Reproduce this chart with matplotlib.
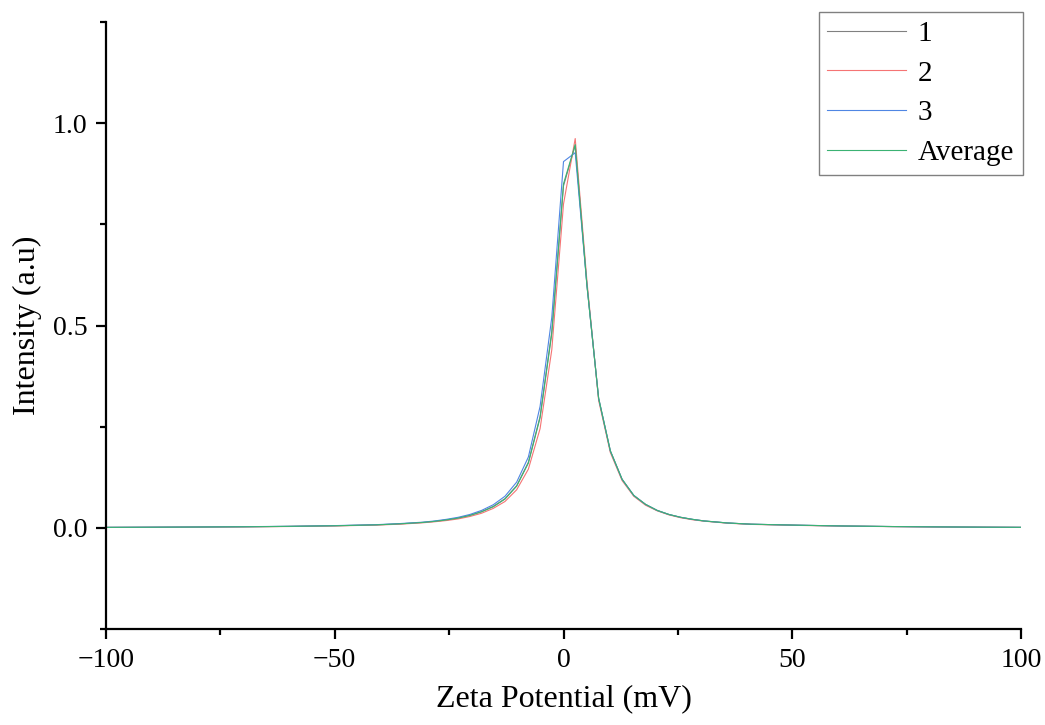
import matplotlib
matplotlib.use("Agg")
import matplotlib.pyplot as plt
from matplotlib.ticker import MultipleLocator

plt.rcParams["font.family"] = ["Liberation Serif", "DejaVu Serif"]

# zeta potential bins (mV)
zeta = [-100, -90, -80, -70, -60, -50, -40.96, -35.84, -30.72, -28.16, -25.6,
        -23.04, -20.48, -17.92, -15.36, -12.8, -10.24, -7.68, -5.12, -2.56, 0,
        2.56, 5.12, 7.68, 10.24, 12.8, 15.36, 17.92, 20.48, 23.04, 25.6, 28.16,
        30.72, 35.84, 40.96, 51.2, 61.44, 71.68, 81.92, 92.16, 100]

run1 = [0.0011, 0.0015, 0.002, 0.0026, 0.0036, 0.0051, 0.0073, 0.0098, 0.0134,
        0.016, 0.0196, 0.0242, 0.031, 0.04, 0.053, 0.072, 0.104, 0.162, 0.275,
        0.485, 0.845, 0.945, 0.60, 0.32, 0.19, 0.12, 0.08, 0.058, 0.043, 0.033,
        0.026, 0.021, 0.017, 0.012, 0.009, 0.0065, 0.0045, 0.0032, 0.0023,
        0.0016, 0.0012]
run2 = [0.001, 0.0013, 0.0018, 0.0024, 0.0033, 0.0047, 0.0068, 0.009, 0.0125,
        0.015, 0.018, 0.022, 0.028, 0.036, 0.048, 0.065, 0.094, 0.145, 0.245,
        0.44, 0.80, 0.962, 0.61, 0.315, 0.186, 0.117, 0.078, 0.056, 0.042,
        0.032, 0.025, 0.020, 0.0165, 0.0115, 0.0085, 0.006, 0.0042, 0.003,
        0.0021, 0.0015, 0.0011]
run3 = [0.0012, 0.0016, 0.0021, 0.0028, 0.0038, 0.0055, 0.0078, 0.0105, 0.014,
        0.017, 0.021, 0.026, 0.033, 0.043, 0.057, 0.078, 0.113, 0.175, 0.30,
        0.52, 0.905, 0.927, 0.60, 0.32, 0.19, 0.12, 0.08, 0.058, 0.043, 0.033,
        0.026, 0.021, 0.017, 0.012, 0.009, 0.0065, 0.0045, 0.0032, 0.0023,
        0.0016, 0.0012]
average = [0.0011, 0.0015, 0.002, 0.0026, 0.0036, 0.0051, 0.0073, 0.0098,
           0.0133, 0.016, 0.0195, 0.024, 0.0305, 0.0395, 0.052, 0.071, 0.103,
           0.16, 0.272, 0.48, 0.85, 0.947, 0.60, 0.32, 0.19, 0.12, 0.08, 0.058,
           0.043, 0.033, 0.026, 0.021, 0.017, 0.012, 0.009, 0.0065, 0.0045,
           0.0032, 0.0023, 0.0016, 0.0012]

labels = ["1", "2", "3", "Average"]
colors = ["#808080", "#F57474", "#4F86E3", "#3BB273"]

fig = plt.figure(figsize=(10.45, 7.25), dpi=100)
ax = fig.add_axes([106 / 1045, 1 - 629 / 725, 915 / 1045, 607 / 725])

for series, label, color in zip([run1, run2, run3, average], labels, colors):
    ax.plot(zeta, series, color=color, linewidth=0.8, label=label)

ax.set_xlim(-100, 100)
ax.set_ylim(-0.25, 1.25)
ax.xaxis.set_major_locator(MultipleLocator(50))
ax.xaxis.set_minor_locator(MultipleLocator(25))
ax.yaxis.set_major_locator(MultipleLocator(0.5))
ax.yaxis.set_minor_locator(MultipleLocator(0.25))
ax.yaxis.set_major_formatter(plt.FuncFormatter(lambda v, p: f"{v:.1f}"))

for side in ["top", "right"]:
    ax.spines[side].set_visible(False)
for side in ["left", "bottom"]:
    ax.spines[side].set_linewidth(1.6)

ax.tick_params(which="major", direction="out", length=7.5, width=1.6,
               labelsize=20, pad=6)
ax.tick_params(which="minor", direction="out", length=4, width=1.6)

ax.set_xlabel("Zeta Potential (mV)", fontsize=23, labelpad=8)
ax.set_ylabel("Intensity (a.u)", fontsize=23, labelpad=8)

leg = ax.legend(loc="upper right", bbox_to_anchor=(1023 / 1045, 1 - 12 / 725),
                bbox_transform=fig.transFigure, borderaxespad=0, fontsize=21,
                fancybox=False, edgecolor="#808080", handlelength=2.7,
                handletextpad=0.4, labelspacing=0.45, borderpad=0.3,
                framealpha=1)
leg.get_frame().set_linewidth(1.0)

fig.savefig("out.png", dpi=100)
